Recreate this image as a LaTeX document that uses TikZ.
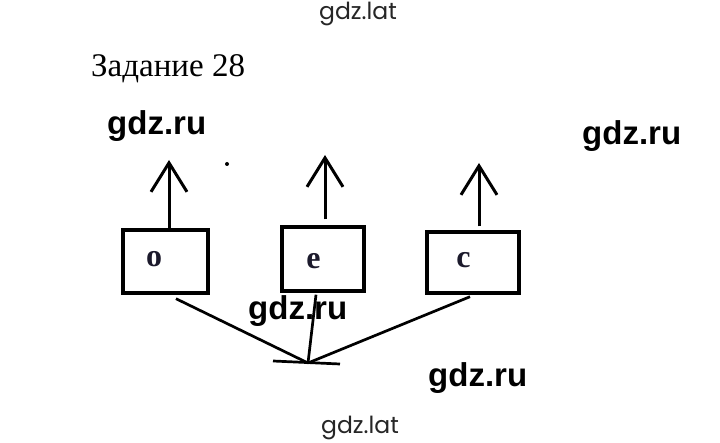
\documentclass[tikz,border=0pt]{standalone}
\usepackage{fontspec}
\setmainfont{Liberation Serif}
\newfontfamily\wmbold{Liberation Sans}
\newfontfamily\wmlat{Poppins}
\usetikzlibrary{arrows.meta}
\definecolor{lettercol}{HTML}{1C1A2C}
\tikzset{
  letterbox/.style={draw, line width=3.4pt, inner sep=0pt},
  letter/.style={font=\bfseries\fontsize{32}{32}\selectfont, text=lettercol, inner sep=0pt, anchor=base},
  uparrow/.style={line width=3pt, -{Straight Barb[length=29pt, width=36pt, line width=3pt]}},
  link/.style={line width=2.7pt},
  wmru/.style={font=\wmbold\bfseries\fontsize{33}{33}\selectfont, inner sep=0pt, anchor=base west},
  wmlat/.style={font=\wmlat\fontsize{23.5}{23.5}\selectfont, inner sep=0pt, anchor=base west, text=black!85},
}
\begin{document}
\begin{tikzpicture}[x=1pt,y=-1pt]
\useasboundingbox (0,0) rectangle (720,443);
\fill[white] (0,0) rectangle (720,443);
% title
\node[font=\fontsize{33}{33}\selectfont, inner sep=0pt, anchor=base west] (title) at (91,77) {Задание 28};
% boxes
\node[letterbox, minimum width=85pt, minimum height=63pt] (o) at (165.5,261.5) {};
\node[letterbox, minimum width=82pt, minimum height=64pt] (e) at (323,259) {};
\node[letterbox, minimum width=92pt, minimum height=61pt] (c) at (473,262.5) {};
\node[letter] (lo) at (154,267) {o};
\node[letter] (le) at (313.5,269) {e};
\node[letter] (lc) at (463.5,268) {c};
% arrow tips
\coordinate (to) at (169,160);
\coordinate (te) at (325,155);
\coordinate (tc) at (479,163);
\draw[uparrow] ([xshift=3.5pt]o.north) -- (to);
\draw[uparrow] ([xshift=2pt,yshift=6pt]e.north) -- (te);
\draw[uparrow] ([xshift=6pt,yshift=4pt]c.north) -- (tc);
% hub
\coordinate (hub) at (308,363);
\coordinate (hl) at (273,361);
\coordinate (hr) at (340,364);
\draw[link] ([xshift=10.5pt,yshift=-4pt]o.south) -- (hub);
\draw[link] ([xshift=-7pt,yshift=-2pt]e.south) -- (hub);
\draw[link] ([xshift=-3pt,yshift=-2pt]c.south) -- (hub);
\draw[link] (hl) -- (hr);
% dot
\fill (227,164) circle (2pt);
% watermarks
\node[wmlat] (w1) at (319,20) {gdz.lat};
\node[wmlat] (w2) at (321,433) {gdz.lat};
\node[wmru] (r1) at (107,135) {gdz.ru};
\node[wmru] (r2) at (582,145) {gdz.ru};
\node[wmru] (r3) at (248,320) {gdz.ru};
\node[wmru] (r4) at (428,387) {gdz.ru};
\end{tikzpicture}
\end{document}
